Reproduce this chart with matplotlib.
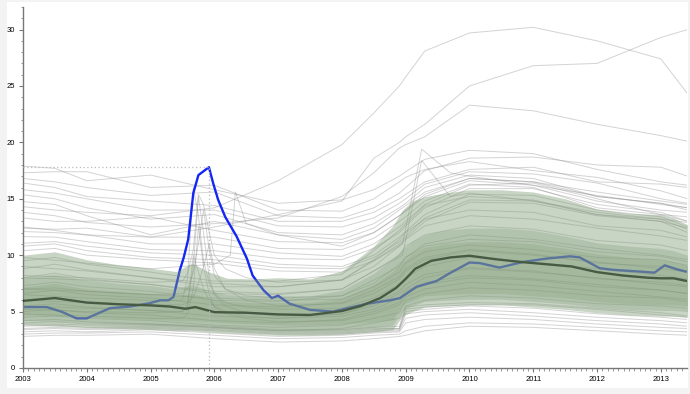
import numpy as np
import matplotlib
matplotlib.use("Agg")
import matplotlib.pyplot as plt
from matplotlib.ticker import MultipleLocator
from matplotlib.patches import Rectangle

plt.rcParams['font.family'] = ['Liberation Sans', 'DejaVu Sans']

# ~ knots shared by most gray county lines
T = [2003, 2003.5, 2004, 2005, 2006, 2007, 2008, 2008.5, 2008.9, 2009.0,
     2009.3, 2010, 2011, 2012, 2013, 2013.42]

# ~ highest outliers after 2008
top_lines = [
    [14.3, 14.0, 13.8, 13.5, 14.2, 16.6, 19.8, 22.6, 25.0, 25.8, 28.1, 29.7, 30.2, 29.0, 27.4, 24.3],
    [12.5, 12.2, 11.8, 11.6, 12.5, 13.6, 14.8, 18.6, 20.0, 20.5, 21.6, 25.0, 26.8, 27.0, 29.3, 30.0],
    [13.8, 13.5, 12.9, 12.5, 12.8, 13.3, 15.2, 17.3, 19.5, 19.8, 20.5, 23.3, 22.8, 21.6, 20.6, 20.1],
]

# ~ lines above the green band
upper_lines = [
    [17.9, 17.7, 16.6, 17.1, 15.8, 14.6, 14.9, 15.8, 17.0, 17.4, 18.5, 19.3, 19.0, 17.6, 16.5, 16.2],
    [17.3, 17.4, 17.4, 16.0, 16.2, 14.0, 13.9, 15.0, 16.5, 16.9, 17.6, 18.3, 17.5, 16.9, 15.7, 15.0],
    [16.8, 16.5, 16.0, 15.3, 15.6, 13.5, 13.3, 14.2, 15.5, 16.0, 17.5, 18.6, 18.7, 18.0, 17.8, 17.0],
    [16.4, 16.0, 15.2, 14.8, 14.4, 13.0, 13.0, 13.8, 15.0, 15.4, 16.5, 17.6, 17.8, 16.5, 16.3, 16.0],
    [15.8, 15.5, 15.0, 14.0, 14.0, 12.6, 12.5, 13.3, 14.6, 15.0, 16.3, 17.4, 17.2, 16.4, 15.0, 14.6],
    [15.35, 15.0, 14.2, 13.2, 13.6, 12.0, 11.8, 12.8, 14.2, 14.6, 16.0, 17.1, 16.8, 15.2, 14.6, 14.0],
    [14.75, 14.5, 13.5, 11.8, 13.0, 11.8, 11.4, 12.4, 14.0, 14.4, 15.6, 16.8, 16.5, 15.6, 14.8, 14.5],
    [13.3, 13.0, 13.0, 13.4, 12.2, 11.2, 11.1, 12.0, 13.5, 13.9, 15.2, 16.6, 16.2, 14.8, 14.0, 13.8],
    [12.4, 12.3, 12.4, 11.6, 11.6, 10.6, 10.5, 11.5, 13.0, 13.4, 14.8, 16.3, 16.0, 14.2, 13.6, 13.0],
    [12.1, 12.0, 11.8, 11.0, 11.0, 10.2, 9.9, 11.0, 12.5, 13.0, 14.5, 16.2, 16.4, 15.0, 13.6, 13.4],
    [11.65, 11.6, 11.2, 10.5, 10.4, 9.7, 9.6, 10.6, 12.0, 12.6, 14.2, 15.9, 15.9, 14.5, 13.8, 13.0],
    [11.06, 11.2, 10.8, 10.2, 10.0, 9.2, 9.0, 10.0, 11.6, 12.1, 13.6, 15.4, 15.3, 14.0, 13.4, 12.5],
    [10.8, 11.0, 10.4, 9.8, 9.6, 8.9, 8.8, 9.8, 11.2, 11.7, 13.3, 14.9, 14.8, 13.6, 13.2, 12.3],
    [10.4, 10.6, 10.0, 9.6, 9.3, 8.6, 8.5, 9.5, 11.0, 11.5, 13.0, 14.7, 14.6, 13.5, 13.0, 12.0],
]

# ~ lines inside the band
inner_lines = [
    [9.5, 9.8, 9.2, 8.5, 7.7, 7.7, 8.3, 10.4, 12.2, 12.8, 14.4, 15.2, 14.9, 13.6, 13.0, 12.4],
    [8.8, 9.2, 8.7, 8.0, 7.2, 7.2, 7.8, 9.6, 11.4, 12.0, 13.2, 14.0, 13.8, 12.6, 12.2, 11.6],
    [8.0, 8.4, 7.9, 7.4, 6.6, 6.5, 7.0, 8.6, 10.0, 10.8, 11.8, 12.6, 12.3, 11.3, 10.9, 10.4],
    [7.3, 7.6, 7.2, 6.8, 6.0, 5.9, 6.4, 7.8, 9.0, 9.8, 10.8, 11.4, 11.2, 10.3, 9.9, 9.4],
    [6.6, 6.9, 6.5, 6.2, 5.6, 5.4, 5.8, 6.9, 8.1, 8.8, 9.8, 10.5, 10.1, 9.3, 9.0, 8.6],
    [5.5, 5.7, 5.4, 5.1, 4.6, 4.4, 4.8, 5.7, 6.8, 7.4, 8.3, 8.9, 8.6, 7.9, 7.6, 7.3],
    [5.0, 5.2, 4.9, 4.7, 4.2, 4.0, 4.3, 5.0, 5.8, 6.6, 7.4, 8.0, 7.8, 7.2, 6.9, 6.6],
    [4.5, 4.6, 4.4, 4.2, 3.8, 3.6, 3.8, 4.4, 4.9, 6.0, 6.6, 7.1, 6.9, 6.4, 6.2, 5.9],
    [4.2, 4.3, 4.1, 3.9, 3.6, 3.3, 3.5, 4.0, 4.4, 5.5, 6.0, 6.4, 6.2, 5.7, 5.5, 5.3],
    [7.0, 7.1, 6.8, 6.5, 6.2, 6.0, 6.1, 7.2, 8.5, 9.3, 10.3, 10.9, 10.5, 9.8, 9.6, 9.1],
]

# ~ lines below the band
lower_lines = [
    [2.8, 2.9, 2.9, 3.0, 2.6, 2.3, 2.4, 2.6, 2.8, 2.9, 3.3, 3.7, 3.6, 3.3, 3.0, 2.9],
    [3.0, 3.1, 3.1, 3.2, 2.9, 2.6, 2.7, 2.9, 3.0, 3.3, 3.7, 4.0, 3.9, 3.6, 3.3, 3.2],
    [3.2, 3.3, 3.2, 3.4, 3.1, 2.8, 2.9, 3.1, 3.2, 4.0, 4.3, 4.5, 4.3, 3.9, 3.6, 3.5],
    [3.4, 3.5, 3.4, 3.5, 3.3, 3.0, 3.0, 3.2, 3.3, 4.4, 4.7, 4.9, 4.6, 4.2, 3.9, 3.7],
    [3.5, 3.6, 3.5, 3.6, 3.4, 3.1, 3.1, 3.3, 3.4, 4.8, 5.0, 5.2, 4.9, 4.5, 4.2, 4.0],
    [3.7, 3.8, 3.6, 3.7, 3.5, 3.2, 3.2, 3.4, 3.5, 5.0, 5.2, 5.5, 5.3, 4.8, 4.5, 4.3],
    [3.9, 3.9, 3.8, 3.8, 3.6, 3.3, 3.3, 3.5, 3.5, 5.2, 5.4, 5.6, 5.6, 5.2, 4.7, 4.5],
    [4.0, 4.1, 3.9, 3.9, 3.7, 3.4, 3.4, 3.6, 3.7, 5.4, 5.6, 5.8, 5.7, 5.3, 4.9, 4.6],
]

# ~ parishes hit in late 2005
TK = [2003, 2004, 2005, 2005.5, 2005.58, 2005.67, 2005.75, 2005.83, 2005.92, 2006.0,
      2006.17, 2006.5, 2007, 2008, 2008.5, 2008.9, 2009.0, 2009.3, 2010, 2011, 2012,
      2013, 2013.42]
storm_lines = [
    [6.5, 6.2, 6.0, 6.0, 8.0, 16.0, 13.5, 9.5, 7.5, 6.6, 5.8, 5.4, 5.2, 5.3, 6.2, 7.4, 8.0, 9.0, 9.8, 9.4, 8.8, 8.2, 7.9],
    [5.5, 5.3, 5.1, 5.0, 5.6, 9.0, 15.2, 12.0, 8.0, 6.5, 5.5, 4.9, 4.6, 4.8, 5.5, 6.6, 7.0, 8.0, 8.8, 8.5, 8.0, 7.4, 7.2],
    [7.0, 6.8, 6.5, 6.6, 7.0, 8.5, 11.0, 14.0, 10.5, 8.2, 7.0, 6.4, 6.2, 6.4, 7.5, 9.2, 9.8, 11.0, 11.8, 11.4, 10.6, 10.0, 9.6],
    [4.8, 4.6, 4.4, 4.4, 4.8, 7.0, 12.5, 9.0, 6.5, 5.4, 4.8, 4.4, 4.1, 4.2, 4.8, 5.6, 6.3, 7.0, 7.6, 7.3, 6.8, 6.3, 6.1],
    [6.0, 5.8, 5.6, 5.6, 5.8, 6.3, 7.5, 9.0, 11.0, 8.8, 7.0, 6.0, 5.5, 5.7, 6.6, 7.9, 8.6, 9.6, 10.4, 10.0, 9.4, 8.8, 8.5],
    [5.2, 5.0, 4.9, 5.0, 5.5, 10.0, 8.5, 7.0, 6.0, 5.5, 5.0, 4.6, 4.4, 4.6, 5.2, 6.2, 6.8, 7.6, 8.2, 7.9, 7.4, 6.9, 6.6],
    [8.2, 8.0, 7.6, 7.7, 8.4, 10.5, 15.4, 14.5, 12.0, 10.0, 8.8, 8.0, 7.6, 7.8, 9.0, 10.8, 11.4, 12.6, 13.5, 13.2, 12.4, 11.7, 11.3],
]

# ~ odd single spikes
TS = [2003, 2004, 2005, 2006, 2007, 2008, 2008.5, 2008.95, 2009.25, 2009.7, 2010, 2011, 2012, 2013, 2013.42]
spike_lines = [
    [9.0, 8.6, 8.0, 7.5, 7.2, 7.8, 9.5, 11.0, 19.4, 17.3, 17.0, 16.2, 15.3, 14.5, 14.2],
    [8.0, 7.8, 7.4, 6.8, 6.6, 7.0, 8.6, 10.0, 18.4, 15.2, 15.5, 14.8, 13.8, 13.2, 12.9],
]
TR = [2003, 2004, 2005, 2006, 2006.25, 2006.33, 2006.5, 2007, 2008, 2008.5, 2008.9, 2009.3, 2010, 2011, 2012, 2013, 2013.42]
late_spike = [9.8, 9.3, 8.8, 9.2, 10.0, 15.6, 12.8, 11.8, 10.8, 12.0, 13.5, 15.4, 16.8, 16.5, 15.2, 14.6, 14.2]

# ~ percentile bands (outer, middle, core)
TB = [2003, 2003.5, 2004, 2004.5, 2005, 2005.4, 2005.65, 2005.9, 2006.2, 2006.6, 2007, 2007.5,
      2008, 2008.5, 2008.8, 2008.95, 2009.1, 2009.3, 2009.6, 2010, 2010.5, 2011, 2011.5, 2012,
      2012.5, 2013, 2013.2, 2013.42]
band_hi = [10.0, 10.3, 9.6, 9.15, 8.85, 8.55, 9.3, 8.55, 7.95, 7.9, 8.0, 7.9,
           8.6, 10.8, 12.6, 14.0, 14.8, 15.2, 15.5, 15.8, 15.8, 15.6, 15.0, 14.1,
           13.7, 13.6, 13.3, 12.7]
band_lo = [3.8, 3.7, 3.6, 3.5, 3.4, 3.3, 3.3, 3.2, 3.1, 3.0, 2.9, 2.9,
           3.0, 3.2, 3.4, 4.6, 5.0, 5.4, 5.5, 5.6, 5.6, 5.4, 5.2, 4.9,
           4.7, 4.6, 4.6, 4.5]
mid_hi = [8.0, 8.3, 7.8, 7.5, 7.3, 7.0, 7.4, 6.9, 6.5, 6.4, 6.4, 6.4,
          6.9, 8.4, 9.7, 10.5, 11.2, 11.8, 12.2, 12.4, 12.4, 12.2, 11.7, 11.1,
          10.8, 10.6, 10.4, 10.0]
mid_lo = [4.2, 4.1, 4.0, 3.9, 3.8, 3.7, 3.7, 3.6, 3.5, 3.4, 3.3, 3.3,
          3.4, 3.6, 3.8, 5.1, 5.5, 5.9, 6.0, 6.1, 6.1, 5.9, 5.7, 5.4,
          5.2, 5.1, 5.1, 5.0]
core_hi = [7.2, 7.5, 7.0, 6.8, 6.6, 6.4, 6.6, 6.2, 5.9, 5.8, 5.8, 5.8,
           6.2, 7.4, 8.6, 9.4, 10.1, 10.7, 11.0, 11.2, 11.2, 11.0, 10.6, 10.1,
           9.8, 9.6, 9.4, 9.1]
core_lo = [4.7, 4.6, 4.5, 4.4, 4.3, 4.2, 4.2, 4.1, 4.0, 3.9, 3.8, 3.8,
           3.9, 4.1, 4.3, 5.6, 6.0, 6.4, 6.5, 6.6, 6.6, 6.4, 6.2, 5.9,
           5.7, 5.6, 5.6, 5.5]

# ~ median of all counties
TM = [2003, 2003.5, 2004, 2004.5, 2005, 2005.3, 2005.55, 2005.7, 2006.0, 2006.5, 2007, 2007.5,
      2008, 2008.3, 2008.6, 2008.85, 2009.0, 2009.15, 2009.4, 2009.7, 2010.0, 2010.4, 2010.8,
      2011.2, 2011.6, 2012.0, 2012.4, 2012.8, 2013.0, 2013.2, 2013.42]
median = [5.95, 6.2, 5.8, 5.65, 5.55, 5.45, 5.25, 5.4, 4.95, 4.9, 4.75, 4.7,
          5.05, 5.5, 6.2, 7.1, 7.9, 8.8, 9.5, 9.8, 9.95, 9.65, 9.4,
          9.2, 9.0, 8.5, 8.2, 8.0, 7.95, 7.95, 7.7]

# ~ highlighted county
TH = [2003.0, 2003.37, 2003.6, 2003.84, 2004.0, 2004.36, 2004.68, 2004.99, 2005.15, 2005.28,
      2005.36, 2005.46, 2005.52, 2005.59, 2005.67, 2005.75, 2005.915, 2005.98, 2006.06, 2006.17,
      2006.35, 2006.51, 2006.6, 2006.77, 2006.9, 2007.0, 2007.18, 2007.5, 2007.86, 2008.39,
      2008.75, 2008.91, 2009.17, 2009.48, 2009.69, 2010.0, 2010.16, 2010.47, 2010.84, 2011.21,
      2011.57, 2011.73, 2012.04, 2012.25, 2012.67, 2012.9, 2013.06, 2013.25, 2013.39]
highlight = [5.4, 5.4, 5.0, 4.4, 4.4, 5.3, 5.45, 5.75, 6.0, 6.0,
             6.3, 8.7, 9.8, 11.4, 15.5, 17.1, 17.8, 16.4, 14.9, 13.4,
             11.65, 9.7, 8.2, 6.9, 6.2, 6.4, 5.7, 5.15, 5.0, 5.7,
             6.0, 6.2, 7.2, 7.7, 8.4, 9.35, 9.3, 8.9, 9.4, 9.7,
             9.9, 9.8, 8.85, 8.7, 8.55, 8.45, 9.1, 8.75, 8.55]

years = list(range(2003, 2014))


fig = plt.figure(figsize=(6.9, 3.94), dpi=100, facecolor='#f3f3f3')
bg = Rectangle((7/690, 6/394), 681/690, 386/394, transform=fig.transFigure,
               facecolor='white', edgecolor='none', zorder=-10)
fig.add_artist(bg)
ax = fig.add_axes([23/690, 26/394, 664/690, 361/394])
ax.set_facecolor('none')

gray = dict(color='#8c8c8c', alpha=0.38, lw=0.7, zorder=1)
for v in top_lines + upper_lines + inner_lines + lower_lines:
    ax.plot(T, v, **gray)
for v in storm_lines:
    ax.plot(TK, v, **gray)
for v in spike_lines:
    ax.plot(TS, v, **gray)
ax.plot(TR, late_spike, **gray)

ax.plot(TH, highlight, color='#1426f5', lw=1.7, zorder=2)

green = '#7c9a74'
ax.fill_between(TB, band_lo, band_hi, color=green, alpha=0.42, lw=0, zorder=3)
ax.plot(TM, median, color='#1b251a', lw=1.7, zorder=3.5)
ax.fill_between(TB, mid_lo, mid_hi, color=green, alpha=0.28, lw=0, zorder=4)
ax.fill_between(TB, core_lo, core_hi, color=green, alpha=0.26, lw=0, zorder=4)

# ~ crosshair on the peak
i = int(np.argmax(highlight))
ax.plot([2003, TH[i]], [highlight[i], highlight[i]], color='#bbbbbb', lw=0.9,
        ls=(0, (1, 2)), zorder=5)
ax.plot([TH[i], TH[i]], [0, highlight[i]], color='#bbbbbb', lw=0.9,
        ls=(0, (1, 2)), zorder=5)

ax.set_xlim(2003, 2013.41)
ax.set_ylim(0, 32)
ax.set_xticks(years)
ax.set_xticklabels([str(y) for y in years])
ax.xaxis.set_minor_locator(MultipleLocator(1/12))
ax.yaxis.set_major_locator(MultipleLocator(5))
ax.yaxis.set_minor_locator(MultipleLocator(1))

for s in ['top', 'right']:
    ax.spines[s].set_visible(False)
for s in ['left', 'bottom']:
    ax.spines[s].set_color('#777777')
    ax.spines[s].set_linewidth(1)
ax.tick_params(which='major', length=3.2, width=0.8, color='#777777', labelsize=5.5,
               labelcolor='#000000', pad=2.5)
ax.tick_params(which='minor', length=1.8, width=0.6, color='#888888')

fig.savefig('out.png', dpi=100, facecolor=fig.get_facecolor())
